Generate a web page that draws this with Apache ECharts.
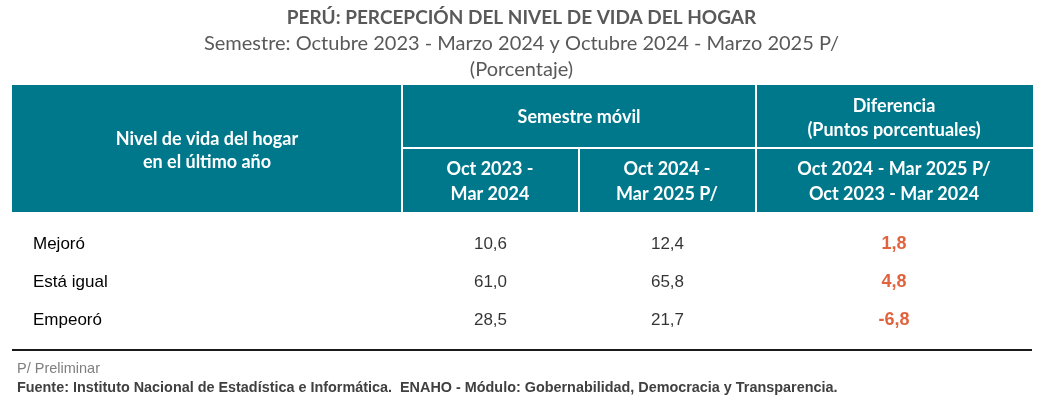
<!DOCTYPE html>
<html>
<head>
<meta charset="utf-8">
<script src="https://cdn.jsdelivr.net/npm/echarts@6/dist/echarts.min.js"></script>
<style>
  html, body { margin: 0; padding: 0; background: #fff; }
  #chart { width: 1043px; height: 407px; }
</style>
</head>
<body>
<div id="chart"></div>
<script>
var rows = ['Mejoró', 'Está igual', 'Empeoró'];
var colNames = ['Oct 2023 - Mar 2024', 'Oct 2024 - Mar 2025 P/', 'Diferencia'];
var valuesPrev = [10.6, 61.0, 28.5];
var valuesCurr = [12.4, 65.8, 21.7];
var valuesDiff = [1.8, 4.8, -6.8];

var headRowLabel = 'Nivel de vida del hogar\nen el último año';
var headGroup = 'Semestre móvil';
var headDiff = 'Diferencia\n(Puntos porcentuales)';
var headPrev = 'Oct 2023 -\nMar 2024';
var headCurr = 'Oct 2024 -\nMar 2025 P/';
var headDiffSub = 'Oct 2024 - Mar 2025 P/\nOct 2023 - Mar 2024';

var titleText = 'PERÚ: PERCEPCIÓN DEL NIVEL DE VIDA DEL HOGAR';
var subText = 'Semestre: Octubre 2023 - Marzo 2024 y Octubre 2024 - Marzo 2025 P/\n(Porcentaje)';
var noteText = 'P/ Preliminar';
var sourceText = 'Fuente: Instituto Nacional de Estadística e Informática.  ENAHO - Módulo: Gobernabilidad, Democracia y Transparencia.';

var TEAL = '#00788c';
var HEAD_FONT = 'Lato, "Open Sans", sans-serif';
var BODY_FONT = '"Liberation Sans Narrow", "Arial Narrow", "Liberation Sans", sans-serif';

var myChart = echarts.init(document.getElementById('chart'));

function fmt(v) {
    return v.toFixed(1).replace('.', ',');
}

var columns = [valuesPrev, valuesCurr, valuesDiff];
var gridBox = [
    {left: 402, width: 177},
    {left: 579, width: 177},
    {left: 756, width: 276}
];

var grids = [], xAxes = [], yAxes = [], series = [];
columns.forEach(function (vals, c) {
    grids.push({left: gridBox[c].left, width: gridBox[c].width, top: 225, height: 114});
    xAxes.push({
        type: 'category', gridIndex: c, data: [colNames[c]], show: false
    });
    yAxes.push({
        type: 'category', gridIndex: c, data: rows, inverse: true,
        show: c === 0,
        axisLine: {show: false},
        axisTick: {show: false},
        splitLine: {show: false},
        axisLabel: {
            show: c === 0,
            align: 'left',
            margin: 369,
            fontFamily: BODY_FONT,
            fontSize: 17,
            color: '#000'
        }
    });
    var isDiff = c === 2;
    series.push({
        type: 'scatter',
        xAxisIndex: c,
        yAxisIndex: c,
        symbolSize: 1,
        itemStyle: {color: 'rgba(0,0,0,0)'},
        silent: true,
        data: rows.map(function (r, i) {
            return [colNames[c], r, vals[i]];
        }),
        label: {
            show: true,
            position: 'inside',
            formatter: function (p) { return fmt(p.value[2]); },
            fontFamily: BODY_FONT,
            fontSize: isDiff ? 18 : 17,
            fontWeight: isDiff ? 'bold' : 'normal',
            color: isDiff ? '#d93c0c' : '#000'
        }
    });
});

function headText(x, y, txt, lh) {
    return {
        type: 'text', x: x, y: y, silent: true,
        style: {
            text: txt, fill: '#fff', font: 'bold 18px ' + HEAD_FONT,
            align: 'center', verticalAlign: 'middle', lineHeight: lh
        }
    };
}
function whiteLine(x1, y1, x2, y2) {
    return {
        type: 'line', silent: true,
        shape: {x1: x1, y1: y1, x2: x2, y2: y2},
        style: {stroke: '#fff', lineWidth: 2}
    };
}

var option = {
    animation: false,
    title: {
        text: titleText,
        subtext: subText,
        left: 'center',
        top: 2,
        itemGap: 2,
        textStyle: {
            fontFamily: HEAD_FONT, fontSize: 19, fontWeight: 'bold',
            color: '#595959', lineHeight: 22
        },
        subtextStyle: {
            fontFamily: HEAD_FONT, fontSize: 20, color: '#595959',
            lineHeight: 26, align: 'center'
        }
    },
    grid: grids,
    xAxis: xAxes,
    yAxis: yAxes,
    series: series,
    graphic: [
        {
            type: 'rect', silent: true, z: 0,
            shape: {x: 12, y: 85, width: 1021, height: 127},
            style: {fill: TEAL}
        },
        whiteLine(402, 85, 402, 212),
        whiteLine(756, 85, 756, 212),
        whiteLine(402, 148, 1033, 148),
        whiteLine(579, 148, 579, 212),
        headText(207, 151, headRowLabel, 23),
        headText(579, 117, headGroup, 24),
        headText(894, 118, headDiff, 24),
        headText(490, 182, headPrev, 25),
        headText(667, 182, headCurr, 25),
        headText(894, 182, headDiffSub, 25),
        {
            type: 'line', silent: true,
            shape: {x1: 12, y1: 350, x2: 1032, y2: 350},
            style: {stroke: '#1a1a1a', lineWidth: 2}
        },
        {
            type: 'text', x: 17, y: 369, silent: true,
            style: {
                text: noteText, fill: '#7f7f7f', font: '14.5px ' + BODY_FONT,
                verticalAlign: 'middle'
            }
        },
        {
            type: 'text', x: 17, y: 388, silent: true,
            style: {
                text: sourceText, fill: '#404040', font: 'bold 14.4px ' + BODY_FONT,
                verticalAlign: 'middle'
            }
        }
    ]
};

myChart.setOption(option);
</script>
</body>
</html>
